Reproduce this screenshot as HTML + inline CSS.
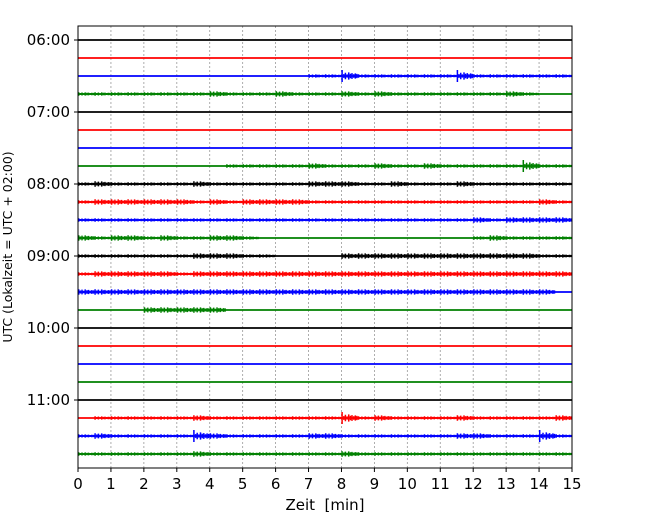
<!DOCTYPE html>
<html><head><meta charset="utf-8"><style>
body{margin:0;background:#fff}
svg{display:block;font-family:"DejaVu Sans","Liberation Sans",sans-serif}
</style></head><body>
<svg id="c" width="650" height="520">
<rect x="0" y="0" width="650" height="520" fill="#fff"/>
<g id="grid"></g>
<g id="traces"></g>
<rect x="78" y="26" width="494" height="442" fill="none" stroke="#000" stroke-width="1"/>
<g id="axes"></g>
<text x="325" y="510" font-size="15" text-anchor="middle" xml:space="preserve">Zeit  [min]</text>
<text transform="translate(12,247) rotate(-90)" font-size="12.5" text-anchor="middle">UTC (Lokalzeit = UTC + 02:00)</text>
</svg>
<script>
const xTicks=[0,1,2,3,4,5,6,7,8,9,10,11,12,13,14,15];
const yLabels=["06:00","07:00","08:00","09:00","10:00","11:00"];
const colors=["#000","#f00","#00f","#008000"];
const rowCount=24;
// activity level per 30-second bin (30 bins per row), 0..3
const activity=[
"000000000000000000000000000000",
"000000000000000000000000000000",
"000000000000001131111113111111",
"111111112111211121211111112100",
"000000000000000000000000000000",
"000000000000000000000000000000",
"000000000000000000000000000000",
"000000000111112111211211111311",
"121111121111112221121112111111",
"122222212122221111111111111121",
"111111111111111111111111212222",
"212212112210000000000000121111",
"111111122211000022222222222211",
"122222122222222222222222222222",
"222222222222222222222222222220",
"000022222000000000000000000000",
"000000000000000000000000000000",
"000000000000000000000000000000",
"000000000000000000000000000000",
"000000000000000000000000000000",
"000000000000000000000000000000",
"011111121111111131211112111112",
"121111132111112211111112211131",
"111111121111111121111111111111"
];
const ns="http://www.w3.org/2000/svg";
const X=m=>78+m*494/15;
const Y=r=>40+r*18;
function el(t,a,p){const e=document.createElementNS(ns,t);for(const k in a)e.setAttribute(k,a[k]);p.appendChild(e);return e;}
const grid=document.getElementById('grid'),tr=document.getElementById('traces'),ax=document.getElementById('axes');
xTicks.forEach(t=>{
 if(t>0&&t<15){const l=el('line',{x1:X(t),x2:X(t),y1:26,y2:468,stroke:'#999','stroke-width':0.8,'stroke-dasharray':'2,2'},grid);
 
 }
 const tk=el('line',{x1:X(t),x2:X(t),y1:468,y2:472,stroke:'#000'},ax);
 
 
 const tx=el('text',{x:X(t),y:489,'font-size':15,'text-anchor':'middle'},ax);tx.textContent=t;
 
 
});
yLabels.forEach((s,i)=>{
 const y=Y(i*4);
 const tk=el('line',{x1:74,x2:78,y1:y,y2:y,stroke:'#000'},ax);
 
 
 const tx=el('text',{x:70,y:y+5,'font-size':15,'text-anchor':'end'},ax);tx.textContent=s;
 
 
});
const texture=[1,0.4,0.8,0.3,0.9,0.5,0.7,0.35,0.6,0.45];
for(let r=0;r<rowCount;r++){
 const c=colors[r%4],y=Y(r);
 const base=el('line',{x1:78,x2:572,y1:y,y2:y,stroke:c,'stroke-width':1.8},tr);
 
 
 let d='';
 const bins=activity[r];
 for(let b=0;b<bins.length;b++){
  const a=+bins[b];if(!a)continue;
  for(let j=0;j<10;j++){
   const m=(b+j/10+0.04)/2;
   const h=a===3&&j===0?6:a*1.1*texture[j]+0.6;
   d+=`M${X(m).toFixed(1)},${(y-h).toFixed(1)}V${(y+h).toFixed(1)}`;
  }
 }
 if(d){const p=el('path',{d:d,stroke:c,'stroke-width':1.5,fill:'none'},tr);
 
 }
}
</script>
</body></html>
